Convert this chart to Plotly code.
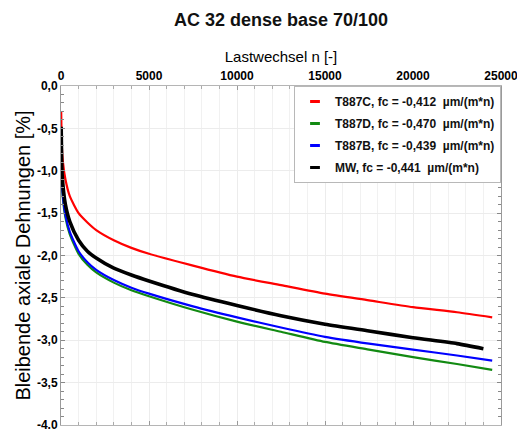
import plotly.graph_objects as go

# ---- data ----
n_cycles = [10, 50, 100, 250, 500, 1000, 1500, 2000, 3000, 4000, 5000, 7500, 10000, 12500, 15000, 17500, 20000, 22500, 24500]
n_cycles_mw = [10, 50, 100, 250, 500, 1000, 1500, 2000, 3000, 4000, 5000, 7500, 10000, 12500, 15000, 17500, 20000, 22500, 24000]

t887c = [-0.30, -0.72, -0.88, -1.10, -1.30, -1.50, -1.61, -1.70, -1.82, -1.91, -1.98, -2.12, -2.25, -2.35, -2.45, -2.53, -2.61, -2.67, -2.73]
t887d = [-0.82, -1.13, -1.31, -1.55, -1.75, -1.98, -2.11, -2.20, -2.32, -2.41, -2.48, -2.64, -2.78, -2.90, -3.02, -3.11, -3.20, -3.28, -3.35]
t887b = [-0.78, -1.10, -1.28, -1.52, -1.72, -1.95, -2.08, -2.17, -2.29, -2.38, -2.45, -2.60, -2.73, -2.85, -2.96, -3.04, -3.11, -3.18, -3.24]
mw    = [-0.48, -0.98, -1.15, -1.40, -1.60, -1.82, -1.95, -2.03, -2.15, -2.23, -2.30, -2.46, -2.59, -2.71, -2.81, -2.89, -2.97, -3.04, -3.10]

series_names = [
    "T887C, fc = -0,412\u00a0 µm/(m*n)",
    "T887D, fc = -0,470\u00a0 µm/(m*n)",
    "T887B, fc = -0,439\u00a0 µm/(m*n)",
    "MW, fc = -0,441\u00a0 µm/(m*n)",
]
series_colors = ["#ff0000", "#128a12", "#0000ff", "#000000"]

x_tick_vals = [0, 5000, 10000, 15000, 20000, 25000]
x_tick_text = ["0", "5000", "10000", "15000", "20000", "25000"]
y_tick_vals = [0.0, -0.5, -1.0, -1.5, -2.0, -2.5, -3.0, -3.5, -4.0]
y_tick_text = ["0,0", "-0,5", "-1,0", "-1,5", "-2,0", "-2,5", "-3,0", "-3,5", "-4,0"]

# ---- figure ----
fig = go.Figure()
xs = [n_cycles, n_cycles, n_cycles, n_cycles_mw]
ys = [t887c, t887d, t887b, mw]
widths = [2.2, 2.2, 2.2, 3.6]
for i in range(4):
    fig.add_trace(go.Scatter(
        x=xs[i], y=ys[i], mode="lines",
        line=dict(color=series_colors[i], width=widths[i], shape="spline", smoothing=0.6),
        showlegend=False, hoverinfo="skip",
    ))
# legend entries (short dash symbols)
for i in range(4):
    fig.add_trace(go.Scatter(
        x=[None], y=[None], mode="markers", name=series_names[i],
        legendgroup=f"g{i}",
        marker=dict(symbol="line-ew", size=7, line=dict(color=series_colors[i], width=3)),
    ))

font_family = "Liberation Sans, Arial, sans-serif"

fig.update_layout(
    width=517, height=429,
    margin=dict(l=61, r=16, t=86, b=4),
    paper_bgcolor="white", plot_bgcolor="white",
    font=dict(family=font_family, color="black"),
    title=dict(text="<b>AC 32 dense base 70/100</b>", x=0.5, xref="paper",
               y=0.953, yanchor="middle", font=dict(size=18, color="#111")),
    legend=dict(
        x=1, xanchor="right", y=1, yanchor="top",
        bgcolor="white", bordercolor="#b8b8b8", borderwidth=1,
        font=dict(size=12, color="#111", family=font_family, weight="bold"),
        tracegroupgap=3, itemwidth=30,
    ),
    xaxis=dict(
        side="top", range=[0, 25000], automargin=False,
        tickmode="array", tickvals=x_tick_vals, ticktext=x_tick_text,
        tickfont=dict(size=12, weight="bold"), ticklabeloverflow="allow",
        title=dict(text="Lastwechsel n [-]", font=dict(size=15), standoff=2),
        showgrid=True, gridcolor="#ececec", gridwidth=1,
        minor=dict(dtick=1000, showgrid=True, gridcolor="#f1f1f1", ticks="inside", ticklen=3, tickcolor="#aaa"),
        showline=True, linecolor="#b5b5b5", linewidth=1, mirror="ticks",
        ticks="inside", ticklen=4, tickcolor="#999",
        zeroline=False,
    ),
    yaxis=dict(
        range=[-4.0, 0.0], automargin=False,
        tickmode="array", tickvals=y_tick_vals, ticktext=y_tick_text,
        tickfont=dict(size=12, weight="bold"), ticklabeloverflow="allow",
        title=dict(text="Bleibende axiale Dehnungen [%]", font=dict(size=20), standoff=0),
        showgrid=True, gridcolor="#ececec", gridwidth=1,
        minor=dict(dtick=0.1, showgrid=False, ticks="inside", ticklen=3, tickcolor="#888"),
        showline=True, linecolor="#9a9a9a", linewidth=1, mirror="ticks",
        ticks="inside", ticklen=4, tickcolor="#888",
        zeroline=False,
    ),
)

fig.write_html("out.html", config={"displayModeBar": False},
               post_script="document.body.style.margin='0px';document.body.style.overflow='hidden';")
